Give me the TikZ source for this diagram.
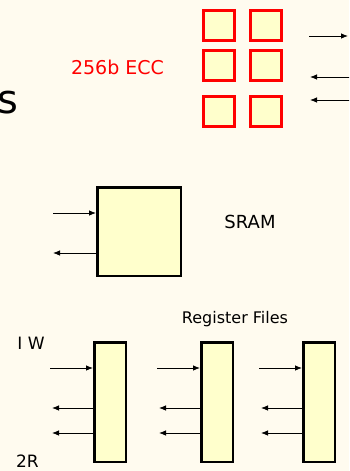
\documentclass[tikz,border=0pt]{standalone}
\usepackage{fontspec}
\setmainfont{DejaVu Sans}
\usetikzlibrary{arrows.meta, positioning}
\definecolor{slidebg}{HTML}{FFFBEF}
\definecolor{cellfill}{HTML}{FFFFCC}
\definecolor{eccred}{HTML}{FF0000}

\begin{document}
\begin{tikzpicture}[x=1pt, y=-1pt, >={Latex[length=7pt, width=5.5pt]},
    eccbit/.style={draw=eccred, line width=3pt, fill=cellfill,
      minimum width=31pt, minimum height=30pt, inner sep=0pt},
    membox/.style={draw=black, line width=2.5pt, fill=cellfill, inner sep=0pt},
    txt/.style={inner sep=0pt, font=\fontsize{#1}{#1}\selectfont},
    port/.style={->, line width=0.8pt}]
  % Slide background
  \useasboundingbox (0,0) rectangle (349,471);
  \clip (0,0) rectangle (349,471);
  \fill[slidebg] (0,0) rectangle (349,471);

  % ECC bit cells, 3 rows x 2 columns
  \foreach \r/\y in {1/25.5, 2/65.5, 3/111.5} {
    \node[eccbit] (ecc\r a) at (219,\y) {};
    \node[eccbit] (ecc\r b) at (265.5,\y) {};
  }
  \node[txt=19, text=eccred] (ecclabel) at (117.5,67) {256b ECC};
  \node[txt=40, anchor=base east] (cutword) at (19,113) {ss};

  % Ports on the right edge
  \coordinate (eccin0) at (309,36);
  \coordinate (eccin1) at (348,36);
  \coordinate (eccouta0) at (355,77);
  \coordinate (eccouta1) at (310,77);
  \coordinate (eccoutb0) at (355,100);
  \coordinate (eccoutb1) at (310,100);
  \draw[port] (eccin0) -- (eccin1);
  \draw[port] (eccouta0) -- (eccouta1);
  \draw[port] (eccoutb0) -- (eccoutb1);

  % SRAM
  \node[membox, minimum width=83.5pt, minimum height=88.5pt] (sram) at (139,231.5) {};
  \node[txt=18] (sramlabel) at (250,222) {SRAM};
  \coordinate (sramin) at (53,213);
  \coordinate (sramout) at (53,253);
  \draw[port] (sramin) -- (sramin -| sram.west);
  \draw[port] (sramout -| sram.west) -- (sramout);

  % Register files: 1 write, 2 read ports each
  \foreach \i/\x in {1/110, 2/217, 3/319} {
    \node[membox, minimum width=31.5pt, minimum height=119.5pt] (rf\i) at (\x,402) {};
    \coordinate (rfin\i) at (\x-60,368);
    \coordinate (rfouta\i) at (\x-58,408);
    \coordinate (rfoutb\i) at (\x-58,433);
    \draw[port] (rfin\i) -- (rfin\i -| rf\i.west);
    \draw[port] (rfouta\i -| rf\i.west) -- (rfouta\i);
    \draw[port] (rfoutb\i -| rf\i.west) -- (rfoutb\i);
  }
  \node[txt=16] (rflabel) at (235,319) {Register Files};
  \node[txt=17] (wlabel) at (31,343) {I W};
  \node[txt=17] (rlabel) at (27.5,461) {2R};
\end{tikzpicture}
\end{document}
